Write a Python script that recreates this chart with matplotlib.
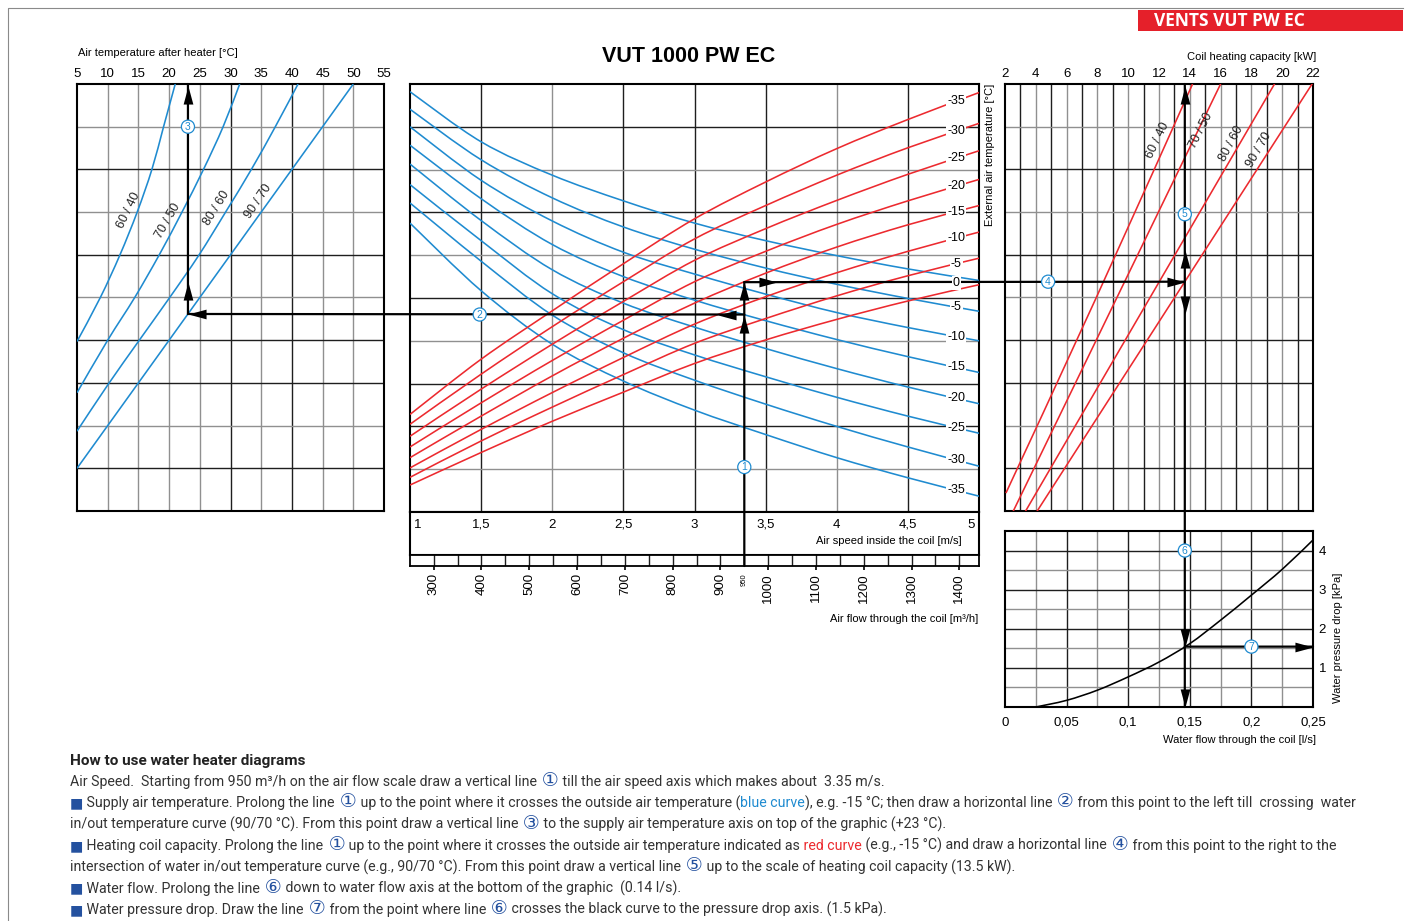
import numpy as np
import matplotlib
matplotlib.use('Agg')
import matplotlib.pyplot as plt
from matplotlib.patches import ConnectionPatch, Rectangle, PathPatch
from matplotlib.path import Path
from matplotlib import transforms

# ---- air speed inside the coil [m/s] at which the curves are read
speed = [1.0, 1.5, 2.0, 2.5, 3.0, 3.5, 4.0, 4.5, 5.0]

# vertical scale of the three upper panels is the common grid row (0 bottom .. 10 top)
blue_temps = [0, -5, -10, -15, -20, -25, -30, -35]
blue_rows = [
    [9.82, 8.65, 7.87, 7.27, 6.75, 6.34, 5.99, 5.68, 5.41],
    [9.41, 8.23, 7.34, 6.66, 6.14, 5.70, 5.32, 4.99, 4.69],
    [9.00, 7.75, 6.80, 6.07, 5.56, 5.09, 4.66, 4.31, 4.00],
    [8.57, 7.32, 6.25, 5.50, 4.95, 4.47, 4.03, 3.63, 3.26],
    [8.13, 6.81, 5.66, 4.88, 4.32, 3.82, 3.35, 2.92, 2.53],
    [7.65, 6.34, 5.10, 4.26, 3.67, 3.16, 2.68, 2.24, 1.84],
    [7.22, 5.86, 4.60, 3.72, 3.08, 2.52, 2.00, 1.52, 1.07],
    [6.75, 5.17, 3.92, 3.06, 2.38, 1.81, 1.27, 0.80, 0.37],
]
red_temps = [-35, -30, -25, -20, -15, -10, -5, 0]
red_rows = [
    [2.28, 3.57, 4.70, 5.80, 6.85, 7.71, 8.49, 9.17, 9.80],
    [2.05, 3.22, 4.33, 5.38, 6.38, 7.16, 7.87, 8.51, 9.08],
    [1.77, 2.87, 3.92, 4.92, 5.88, 6.62, 7.28, 7.89, 8.44],
    [1.52, 2.55, 3.54, 4.48, 5.38, 6.09, 6.72, 7.27, 7.77],
    [1.27, 2.24, 3.18, 4.06, 4.88, 5.58, 6.19, 6.71, 7.16],
    [1.03, 1.93, 2.79, 3.61, 4.39, 5.03, 5.59, 6.09, 6.54],
    [0.81, 1.66, 2.45, 3.21, 3.94, 4.52, 5.05, 5.52, 5.93],
    [0.63, 1.39, 2.12, 2.80, 3.47, 4.02, 4.50, 4.93, 5.31],
]

# supply air temperature after heater [°C] for each water in/out pair
water_pairs = ['60 / 40', '70 / 50', '80 / 60', '90 / 70']
supply_t = [
    [5, 8.8, 12.0, 14.8, 17.2, 19.1, 21.0],
    [5, 10.0, 14.4, 18.4, 22.1, 25.6, 28.8, 31.5],
    [5, 10, 15, 20, 24.8, 29.2, 33.4, 37.3, 41.0],
    [5, 10, 15, 20, 25, 30, 35, 40, 45, 50],
]
supply_y = [
    [3.97, 5, 6, 7, 8, 9, 10],
    [2.77, 4, 5, 6, 7, 8, 9, 10],
    [1.87, 2.95, 3.97, 4.98, 5.98, 7, 8, 9, 10],
    [1, 2, 3, 4, 5, 6, 7, 8, 9, 10],
]

# coil heating capacity [kW]
capacity_kw = [[2.06, 7.93, 14.18], [2.54, 16.0], [3.34, 19.5], [4.09, 21.94]]
capacity_y = [[0.42, 5.0, 10.0], [0.0, 10.0], [0.0, 10.0], [0.0, 10.0]]

# water pressure drop [kPa] vs water flow [l/s]
water_flow = [0.025, 0.05, 0.075, 0.1, 0.125, 0.15, 0.175, 0.2, 0.225, 0.25]
pressure_drop = [0.0, 0.17, 0.43, 0.77, 1.15, 1.62, 2.22, 2.86, 3.52, 4.27]

speed_ticks = [1, 1.5, 2, 2.5, 3, 3.5, 4, 4.5, 5]
speed_labels = ['1', '1,5', '2', '2,5', '3', '3,5', '4', '4,5', '5']
flow_ticks = [300, 400, 500, 600, 700, 800, 900, 1000, 1100, 1200, 1300, 1400]
flow_at_1ms, flow_at_5ms = 250.4, 1441.1      # air flow scale ends [m3/h]
supply_ticks = list(range(5, 60, 5))
kw_ticks = list(range(2, 24, 2))
wflow_ticks = [0, 0.05, 0.1, 0.15, 0.2, 0.25]
wflow_labels = ['0', '0,05', '0,1', '0,15', '0,2', '0,25']
dp_ticks = [1, 2, 3, 4]

# worked example
air_flow = 950
air_speed = 3.35
t_outside = -15

BLUE = '#1f8bd0'
RED = '#ec2a2f'
DARK = '#1e1e1e'
GREY = '#909090'
NAVY = '#24519f'
TXT = '#333333'

W, H = 1408, 921
plt.rcParams['font.family'] = ['Liberation Sans', 'DejaVu Sans']
fig = plt.figure(figsize=(W / 100, H / 100), dpi=100)


def box(x0, y0, x1, y1):
    return [x0 / W, 1 - y1 / H, (x1 - x0) / W, (y1 - y0) / H]


def frame(ax, lw=1.5):
    for s in ax.spines.values():
        s.set_linewidth(lw)
        s.set_color('black')


def grid(ax, xs, ys, xgrey, ygrey):
    for i, x in enumerate(xs):
        ax.axvline(x, color=GREY if i in xgrey else DARK, lw=1.0, zorder=1)
    for i, y in enumerate(ys):
        ax.axhline(y, color=GREY if i in ygrey else DARK, lw=1.0, zorder=1)


def curve(ax, x, y, color, lw=1.15):
    # smooth Catmull-Rom curve through the read points, as cubic Bezier segments
    pts = np.column_stack([x, y]).astype(float)
    n = len(pts)
    if n < 3:
        ax.plot(pts[:, 0], pts[:, 1], color=color, lw=lw, zorder=3)
        return
    verts, codes = [pts[0]], [Path.MOVETO]
    for i in range(n - 1):
        p0 = pts[max(i - 1, 0)]
        p1, p2 = pts[i], pts[i + 1]
        p3 = pts[min(i + 2, n - 1)]
        verts += [p1 + (p2 - p0) / 6, p2 - (p3 - p1) / 6, p2]
        codes += [Path.CURVE4] * 3
    ax.add_patch(PathPatch(Path(verts, codes), fill=False, ec=color, lw=lw, zorder=3))


# overlay for texts, markers and labels drawn on top of everything
axO = fig.add_axes([0, 0, 1, 1], zorder=10)
axO.set_xlim(0, W)
axO.set_ylim(H, 0)
axO.axis('off')
axO.patch.set_visible(False)

rows = list(range(1, 10))
row_grey = [0, 3, 5, 7]      # rows 1..9 -> 9,6,4,2 light

# ---- left panel: supply air temperature
axL = fig.add_axes(box(77, 84, 384, 511))
axL.set_xlim(5, 55)
axL.set_ylim(0, 10)
grid(axL, supply_ticks[1:-1], rows, [0, 1, 2, 3, 5, 7, 8], [1, 4, 6, 8])
for t, y in zip(supply_t, supply_y):
    curve(axL, t, y, BLUE)
axL.xaxis.tick_top()
axL.set_xticks(supply_ticks)
axL.set_yticks([])
axL.tick_params(axis='x', length=0, pad=3, labelsize=9.5)
frame(axL)

# ---- centre panel: outside air temperature curves
axC = fig.add_axes(box(410, 84, 979, 512))
axC.set_xlim(1, 5)
axC.set_ylim(0, 10)
grid(axC, speed_ticks[1:-1], rows, [1, 5], row_grey)
for r in blue_rows:
    curve(axC, speed, r, BLUE)
for r in red_rows:
    curve(axC, speed, r, RED)
axC.set_xticks([])
axC.set_yticks([])
frame(axC)

# air speed box
axS = fig.add_axes(box(410, 512, 979, 555))
axS.set_xlim(1, 5)
axS.set_ylim(0, 1)
axS.set_xticks([])
axS.set_yticks([])
frame(axS)
for v, lab in zip(speed_ticks, speed_labels):
    ha = 'left' if v == 1 else ('right' if v == 5 else 'center')
    dx = 0.03 if v == 1 else (-0.03 if v == 5 else 0)
    axS.text(v + dx, 0.7, lab, ha=ha, va='center', fontsize=9.5)
axS.text(4.88, 0.33, 'Air speed inside the coil [m/s]', ha='right', va='center', fontsize=8)

# air flow strip
axF = fig.add_axes(box(410, 555, 979, 566))
axF.set_xlim(flow_at_1ms, flow_at_5ms)
axF.set_ylim(0, 1)
for f in range(300, 1450, 50):
    axF.axvline(f, color=DARK, lw=1.0)
axF.set_xticks(flow_ticks)
axF.set_xticklabels([str(f) for f in flow_ticks], rotation=90)
axF.set_yticks([])
axF.tick_params(axis='x', length=3, width=1.2, pad=2, labelsize=9.5)
frame(axF, 1.3)
axF.annotate(str(air_flow), xy=(air_flow, 0), xytext=(0, -5), textcoords='offset points',
             rotation=90, ha='center', va='top', fontsize=5.5)

# ---- right panel: heating capacity
axR = fig.add_axes(box(1005, 84, 1313, 511))
axR.set_xlim(2, 22)
axR.set_ylim(0, 10)
grid(axR, list(range(3, 22)), rows, list(range(1, 19, 2)), [1, 4, 6, 8])
for k, y in zip(capacity_kw, capacity_y):
    curve(axR, k, y, RED)
axR.xaxis.tick_top()
axR.set_xticks(kw_ticks)
axR.set_yticks([])
axR.tick_params(axis='x', length=0, pad=3, labelsize=9.5)
frame(axR)

# ---- pressure drop panel
axP = fig.add_axes(box(1005, 531, 1313, 707))
axP.set_xlim(0, 0.25)
axP.set_ylim(0, 4.5)
grid(axP, [0.025 * i for i in range(1, 10)], [0.5 * i for i in range(1, 9)], [0, 2, 4, 6, 8], [0, 2, 4, 6])
curve(axP, water_flow, pressure_drop, 'black')
axP.set_xticks(wflow_ticks)
axP.set_xticklabels(wflow_labels)
axP.yaxis.tick_right()
axP.set_yticks(dp_ticks)
axP.tick_params(axis='x', length=0, pad=7, labelsize=9.5)
axP.tick_params(axis='y', length=0, pad=4, labelsize=9.5)
frame(axP)

# ---- worked example lines
y2 = np.interp(air_speed, speed, blue_rows[blue_temps.index(t_outside)])
y4 = np.interp(air_speed, speed, red_rows[red_temps.index(t_outside)])
t3 = np.interp(y2, supply_y[3], supply_t[3])
kw5 = np.interp(y4, capacity_y[3], capacity_kw[3])
flow6 = (kw5 - 2) / 20 * 0.25        # both right panels share one horizontal scale
p7 = np.interp(flow6, water_flow, pressure_drop)


def link(axa, pa, axb, pb):
    fig.add_artist(ConnectionPatch(xyA=pa, coordsA=axa.transData, xyB=pb, coordsB=axb.transData,
                                   color='black', lw=1.6, zorder=5))


link(axF, (air_flow, 0), axC, (air_speed, y4))
link(axC, (air_speed, y2), axL, (t3, y2))
link(axL, (t3, y2), axL, (t3, 10))
link(axC, (air_speed, y4), axR, (kw5, y4))
link(axR, (kw5, 10), axP, (flow6, 0))
link(axP, (flow6, p7), axP, (0.25, p7))

HEADS = {
    'up': np.array([(0, 0), (-0.27, -1), (0.27, -1), (0, 0)]),
    'down': np.array([(0, 0), (-0.27, 1), (0.27, 1), (0, 0)]),
    'left': np.array([(0, 0), (1, -0.27), (1, 0.27), (0, 0)]),
    'right': np.array([(0, 0), (-1, -0.27), (-1, 0.27), (0, 0)]),
}


def head(ax, x, y, d, dx=0, dy=0):
    tr = transforms.offset_copy(ax.transData, fig=fig, x=dx, y=dy, units='dots')
    axO.plot([x], [y], marker=HEADS[d], ms=26, mew=0, color='black', transform=tr, clip_on=False)


head(axC, air_speed, y2, 'up')
head(axC, air_speed, y4, 'up')
head(axC, air_speed, y2, 'left', dx=-26)
head(axC, air_speed, y4, 'right', dx=33)
head(axL, t3, y2, 'left')
head(axL, t3, y2, 'up', dy=32)
head(axL, t3, 10, 'up', dy=-2)
head(axR, kw5, y4, 'right')
head(axR, kw5, y4, 'up', dy=32)
head(axR, kw5, y4, 'down', dy=-32)
head(axR, kw5, 10, 'up', dy=-2)
head(axP, flow6, p7, 'down')
head(axP, flow6, 0, 'down')
head(axP, 0.25, p7, 'right')


def badge(ax, x, y, n):
    axO.text(x, y, str(n), transform=ax.transData, ha='center', va='center', fontsize=7.5,
             color=BLUE, bbox=dict(boxstyle='circle,pad=0.15', fc='white', ec=BLUE, lw=0.9))


badge(axC, air_speed, 1.05, 1)
badge(axC, 1.49, y2, 2)
badge(axL, t3, 9.0, 3)
badge(axR, 4.8, y4, 4)
badge(axR, kw5, 6.95, 5)
badge(axP, flow6, 4.0, 6)
badge(axP, 0.2, p7, 7)

# ---- curve labels
lab_v = 4.84
lab_box = dict(fc='white', ec='none', pad=0.8)
for t, r in zip(red_temps[:-1], red_rows[:-1]):
    axO.text(lab_v, np.interp(lab_v, speed, r), str(t), transform=axC.transData,
             ha='center', va='center', fontsize=9, bbox=lab_box)
for t, r in zip(blue_temps[1:], blue_rows[1:]):
    axO.text(lab_v, np.interp(lab_v, speed, r), str(t), transform=axC.transData,
             ha='center', va='center', fontsize=9, bbox=lab_box)
y0 = (np.interp(lab_v, speed, red_rows[-1]) + np.interp(lab_v, speed, blue_rows[0])) / 2
axO.text(lab_v, y0, '0', transform=axC.transData, ha='center', va='center', fontsize=9, bbox=lab_box)

left_lab = [(13.4, 7.05, 64), (19.9, 6.8, 60), (27.8, 7.1, 58), (34.6, 7.25, 56)]
for name, (x, y, rot) in zip(water_pairs, left_lab):
    axO.text(x, y, name, transform=axL.transData, rotation=rot, ha='center', va='center',
             fontsize=9, color='#222222')
right_lab = [(11.9, 8.69, 64), (14.7, 8.92, 63), (16.7, 8.61, 62), (18.5, 8.45, 60)]
for name, (x, y, rot) in zip(water_pairs, right_lab):
    axO.text(x, y, name, transform=axR.transData, rotation=rot, ha='center', va='center',
             fontsize=9, color='#222222')

# ---- titles and axis names
axO.text(78, 53, 'Air temperature after heater [°C]', fontsize=8, va='center')
axO.text(689, 56, 'VUT 1000 PW EC', fontsize=15.5, fontweight='bold', ha='center', va='center')
axO.text(1316, 57, 'Coil heating capacity [kW]', fontsize=8, ha='right', va='center')
axO.text(990, 84, 'External air temperature [°C]', fontsize=8, rotation=90, ha='center', va='top')
axO.text(978, 619, 'Air flow through the coil [m³/h]', fontsize=8, ha='right', va='center')
axO.text(1316, 740, 'Water flow through the coil [l/s]', fontsize=8, ha='right', va='center')
axO.text(1338, 638, 'Water pressure drop [kPa]', fontsize=8, rotation=90, ha='center', va='center')

axO.add_patch(Rectangle((1138, 10), 265, 21, fc='#e5202a', ec='none'))
axO.text(1154, 21, 'VENTS VUT PW EC', color='white', fontsize=12.5, fontweight='bold',
         family=['Open Sans', 'DejaVu Sans'], va='center')
axO.plot([8, 8, 1403], [921, 8, 8], color='#8a8a8a', lw=0.8)

# ---- how-to text
BODY = ['Liberation Sans Narrow', 'Roboto', 'DejaVu Sans']
DIGITS = '①②③④⑤⑥⑦'
notes = [
    [('Air Speed.  Starting from 950 m³/h on the air flow scale draw a vertical line', TXT), (' ①', NAVY),
     (' till the air speed axis which makes about  3.35 m/s.', TXT)],
    [('■', NAVY), (' Supply air temperature. Prolong the line', TXT), (' ①', NAVY),
     (' up to the point where it crosses the outside air temperature (', TXT), ('blue curve', BLUE),
     ('), e.g. -15 °C; then draw a horizontal line', TXT), (' ②', NAVY),
     (' from this point to the left till  crossing  water', TXT)],
    [('in/out temperature curve (90/70 °C). From this point draw a vertical line', TXT), (' ③', NAVY),
     (' to the supply air temperature axis on top of the graphic (+23 °C).', TXT)],
    [('■', NAVY), (' Heating coil capacity. Prolong the line', TXT), (' ①', NAVY),
     (' up to the point where it crosses the outside air temperature indicated as', TXT), (' red curve', RED),
     (' (e.g., -15 °C) and draw a horizontal line', TXT), (' ④', NAVY),
     (' from this point to the right to the', TXT)],
    [('intersection of water in/out temperature curve (e.g., 90/70 °C). From this point draw a vertical line', TXT),
     (' ⑤', NAVY), (' up to the scale of heating coil capacity (13.5 kW).', TXT)],
    [('■', NAVY), (' Water flow. Prolong the line', TXT), (' ⑥', NAVY),
     (' down to water flow axis at the bottom of the graphic  (0.14 l/s).', TXT)],
    [('■', NAVY), (' Water pressure drop. Draw the line', TXT), (' ⑦', NAVY), (' from the point where line', TXT),
     (' ⑥', NAVY), (' crosses the black curve to the pressure drop axis. (1.5 kPa).', TXT)],
]
renderer = fig.canvas.get_renderer()


def seg_size(s, size):
    return size * 1.35 if s.strip() and s.strip() in DIGITS else size


def seg_widths(parts, size):
    out = []
    for s, c in parts:
        t = axO.text(0, 0, s, fontsize=seg_size(s, size), family=BODY)
        out.append(t.get_window_extent(renderer).width)
        t.remove()
    return out


body_size = 10 * 1286 / sum(seg_widths(notes[1], 10))
axO.text(70, 765, 'How to use water heater diagrams', fontsize=body_size * 1.08, fontweight='bold',
         family=BODY, color='#222222', va='baseline')
for i, parts in enumerate(notes):
    x = 70
    for (s, c), w in zip(parts, seg_widths(parts, body_size)):
        axO.text(x, 786 + 21.3 * i, s, color=c, fontsize=seg_size(s, body_size), family=BODY,
                 va='baseline')
        x += w

fig.savefig('out.png', dpi=100)
